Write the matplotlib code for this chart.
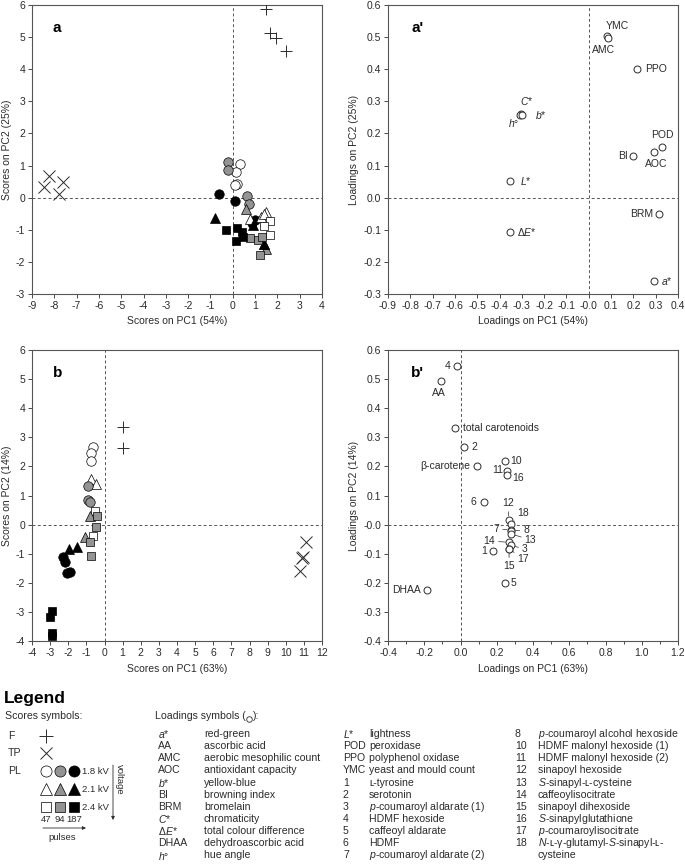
import matplotlib
matplotlib.use("Agg")
import matplotlib.pyplot as plt
import numpy as np

plt.rcParams['font.family'] = ['Liberation Sans', 'DejaVu Sans']
plt.rcParams['mathtext.fontset'] = 'custom'
plt.rcParams['mathtext.rm'] = 'Liberation Sans'
plt.rcParams['mathtext.it'] = 'Liberation Sans:italic'
plt.rcParams['axes.linewidth'] = 0.8

INK = '#2b2b2b'
GREY = '#939393'
W, H = 685, 864

# ---------------- scores, panel a (PC1 54%, PC2 25%) ----------------
a_F_x = [1.47, 1.69, 1.96, 2.38]
a_F_y = [5.86, 5.14, 4.96, 4.57]
a_TP_x = [-8.26, -8.44, -7.62, -7.77]
a_TP_y = [0.66, 0.32, 0.48, 0.12]
a_PL = {
    ('o', 'w'): ([0.34, 0.16, 0.19, 0.09], [1.04, 0.79, 0.42, 0.38]),
    ('o', 'g'): ([-0.22, -0.22, 0.64, 0.73], [1.11, 0.87, 0.04, -0.19]),
    ('o', 'k'): ([-0.60, 0.09, 1.00, 0.85], [0.10, -0.10, -0.68, -0.78]),
    ('^', 'w'): ([1.47, 0.78, 1.25, 1.40], [-0.45, -0.65, -0.60, -0.50]),
    ('^', 'g'): ([0.60, 1.47, 1.38], [-0.35, -1.60, -1.45]),
    ('^', 'k'): ([-0.81, 1.40, 0.90], [-0.63, -1.45, -0.85]),
    ('s', 'w'): ([1.66, 1.39, 1.66], [-0.73, -0.89, -1.15]),
    ('s', 'g'): ([0.78, 1.15, 1.30, 1.22], [-1.27, -1.32, -1.23, -1.79]),
    ('s', 'k'): ([-0.30, 0.18, 0.40, 0.48, 0.13], [-1.00, -0.95, -1.06, -1.23, -1.34]),
}

# ---------------- scores, panel b (PC1 63%, PC2 14%) ----------------
b_F_x = [1.0, 1.0]
b_F_y = [3.36, 2.64]
b_TP_x = [11.12, 10.89, 10.94, 10.81]
b_TP_y = [-0.59, -1.15, -1.13, -1.59]
b_PL = {
    ('o', 'w'): ([-0.64, -0.77, -0.77], [2.67, 2.46, 2.18]),
    ('^', 'w'): ([-0.73, -0.45], [1.58, 1.40]),
    ('s', 'w'): ([-0.55, -0.64], [0.48, -0.38]),
    ('o', 'g'): ([-0.91, -0.91, -0.82], [1.34, 0.83, 0.77]),
    ('^', 'g'): ([-0.82, -1.10], [0.31, -0.44]),
    ('s', 'g'): ([-0.40, -0.45, -0.82, -0.77], [0.31, -0.09, -0.61, -1.07]),
    ('o', 'k'): ([-2.28, -2.19, -2.07, -1.92], [-1.10, -1.30, -1.68, -1.64]),
    ('^', 'k'): ([-1.96, -1.52], [-0.84, -0.78]),
    ('s', 'k'): ([-2.92, -3.01, -2.89, -2.92], [-2.97, -3.17, -3.71, -3.83]),
}

# ---------------- loadings, panel a' ----------------
ap_names = ['YMC', 'AMC', 'PPO', '$C$*', '$h$°', '$b$*', '$L$*', 'Δ$E$*',
            'BI', 'AOC', 'POD', 'BRM', '$a$*']
ap_x = [0.080, 0.085, 0.218, -0.305, -0.310, -0.298, -0.353, -0.353,
        0.198, 0.294, 0.328, 0.315, 0.294]
ap_y = [0.503, 0.498, 0.400, 0.262, 0.256, 0.256, 0.053, -0.108,
        0.131, 0.141, 0.159, -0.051, -0.260]

# ---------------- loadings, panel b' ----------------
bp_names = ['4', 'AA', 'total carotenoids', '2', 'β-carotene', '10', '11', '16',
            '6', '12', '18', '7', '8', '13', '14', '3', '17', '15', '1', '5', 'DHAA']
bp_x = [-0.020, -0.108, -0.028, 0.020, 0.089, 0.246, 0.257, 0.259,
        0.130, 0.265, 0.279, 0.279, 0.281, 0.279, 0.270, 0.278, 0.270, 0.268,
        0.177, 0.246, -0.186]
bp_y = [0.544, 0.493, 0.331, 0.265, 0.203, 0.217, 0.185, 0.172,
        0.077, 0.016, 0.002, -0.018, -0.022, -0.032, -0.061, -0.070, -0.084, -0.085,
        -0.090, -0.200, -0.226]

# label placement: offset in points, alignment, leader line
ap_layout = {
    'YMC': ((8, 7.3), 'center', False), 'AMC': ((-3, -8.5), 'center', False),
    'PPO': ((5.5, 0), 'left', False), '$C$*': ((4, 9), 'center', False),
    '$h$°': ((-4.5, -5.5), 'center', False), '$b$*': ((9, 0), 'left', False),
    '$L$*': ((7, 0), 'left', False), 'Δ$E$*': ((5, 0), 'left', False),
    'BI': ((-4, 0), 'right', False), 'AOC': ((1, -8.5), 'center', False),
    'POD': ((0, 8), 'center', False), 'BRM': ((-4, 0), 'right', False),
    '$a$*': ((5, 0), 'left', False),
}
bp_layout = {
    '4': ((-4.5, 0), 'right', False), 'AA': ((-1.3, -8.8), 'center', False),
    'total carotenoids': ((5.5, 0), 'left', False), '2': ((5, 0), 'left', False),
    'β-carotene': ((-4.3, 0), 'right', False), '10': ((4, 0.5), 'left', False),
    '11': ((-3, 0.5), 'right', False), '16': ((3.5, -2.3), 'left', False),
    '6': ((-5.3, 0), 'right', False), '12': ((0, 12), 'center', True),
    '18': ((9, 8), 'center', True), '7': ((-10.5, 0.5), 'center', True),
    '8': ((10.5, 0.8), 'center', True), '13': ((14, -4.3), 'center', True),
    '14': ((-14.5, 1), 'center', True), '3': ((10, -3.2), 'center', True),
    '17': ((10, -7.2), 'center', True), '15': ((0, -12), 'center', True),
    '1': ((-4, 0), 'right', False), '5': ((4, 0), 'left', False),
    'DHAA': ((-4.5, 0), 'right', False),
}

fill_col = {'w': 'white', 'g': GREY, 'k': 'black'}
msize = {'o': 6.8, '^': 7.2, 's': 6.4}


def px_rect(x0, y0, x1, y1):
    return [x0 / W, 1 - y1 / H, (x1 - x0) / W, (y1 - y0) / H]


def style_axes(ax, xlim, ylim, xt, yt, fmt, xminor=None):
    ax.set_xlim(*xlim)
    ax.set_ylim(*ylim)
    ax.set_xticks(xt)
    ax.set_yticks(yt)
    ax.set_xticklabels([fmt.format(v) for v in xt])
    ax.set_yticklabels([fmt.format(v) for v in yt])
    if xminor is not None:
        ax.set_xticks(xminor, minor=True)
        ax.tick_params(axis='x', which='minor', length=2.5, width=0.6, color=INK)
    ax.tick_params(direction='out', length=3, width=0.6, labelsize=7.5,
                   colors=INK, pad=2)
    for s in ax.spines.values():
        s.set_color('#555555')
        s.set_linewidth(0.8)
    ax.axhline(0, ls=(0, (3, 2.5)), lw=0.7, color='#555555', zorder=1)
    ax.axvline(0, ls=(0, (3, 2.5)), lw=0.7, color='#555555', zorder=1)


def draw_scores(ax, fx, fy, tx, ty, pl):
    ax.plot(fx, fy, '+', ms=9, mew=0.7, color=INK, zorder=3)
    ax.plot(tx, ty, 'x', ms=8, mew=0.7, color=INK, zorder=3)
    for (m, f), (xs, ys) in pl.items():
        ax.plot(xs, ys, m, ms=msize[m], mfc=fill_col[f], mec='black', mew=0.5,
                ls='none', zorder=4)


def draw_loadings(ax, names, xs, ys, layout):
    ax.plot(xs, ys, 'o', ms=5, mfc='white', mec=INK, mew=0.7, ls='none', zorder=4)
    for n, x, y in zip(names, xs, ys):
        off, ha, lead = layout[n]
        kw = dict(xy=(x, y), xytext=off, textcoords='offset points', ha=ha,
                  va='center', fontsize=7.5, color=INK, zorder=5)
        if lead:
            kw['arrowprops'] = dict(arrowstyle='-', lw=0.5, color=INK,
                                    shrinkA=0.5, shrinkB=3)
        ax.annotate(n, **kw)


fig = plt.figure(figsize=(W / 100, H / 100), dpi=100)

# panel a
ax_a = fig.add_axes(px_rect(32, 5, 322, 294))
style_axes(ax_a, (-9, 4), (-3, 6), np.arange(-9, 5), np.arange(-3, 7), '{:g}')
draw_scores(ax_a, a_F_x, a_F_y, a_TP_x, a_TP_y, a_PL)
ax_a.set_xlabel('Scores on PC1 (54%)', fontsize=7.5, color=INK, labelpad=4)
ax_a.set_ylabel('Scores on PC2 (25%)', fontsize=7.5, color=INK, labelpad=3)
ax_a.text(0.072, 0.92, 'a', transform=ax_a.transAxes, fontsize=11,
          fontweight='bold', va='center')

# panel a'
ax_ap = fig.add_axes(px_rect(388, 5, 678, 294))
style_axes(ax_ap, (-0.9, 0.4), (-0.3, 0.6), np.round(np.arange(-0.9, 0.41, 0.1), 1),
           np.round(np.arange(-0.3, 0.61, 0.1), 1), '{:.1f}')
draw_loadings(ax_ap, ap_names, ap_x, ap_y, ap_layout)
ax_ap.set_xlabel('Loadings on PC1 (54%)', fontsize=7.5, color=INK, labelpad=4)
ax_ap.set_ylabel('Loadings on PC2 (25%)', fontsize=7.5, color=INK, labelpad=3)
ax_ap.text(0.08, 0.92, "a'", transform=ax_ap.transAxes, fontsize=11,
           fontweight='bold', va='center')

# panel b
ax_b = fig.add_axes(px_rect(32, 350, 322, 641))
style_axes(ax_b, (-4, 12), (-4, 6), np.arange(-4, 13), np.arange(-4, 7), '{:g}')
draw_scores(ax_b, b_F_x, b_F_y, b_TP_x, b_TP_y, b_PL)
ax_b.set_xlabel('Scores on PC1 (63%)', fontsize=7.5, color=INK, labelpad=4)
ax_b.set_ylabel('Scores on PC2 (14%)', fontsize=7.5, color=INK, labelpad=3)
ax_b.text(0.072, 0.92, 'b', transform=ax_b.transAxes, fontsize=11,
          fontweight='bold', va='center')

# panel b'
ax_bp = fig.add_axes(px_rect(388, 350, 678, 641))
style_axes(ax_bp, (-0.4, 1.2), (-0.4, 0.6), np.round(np.arange(-0.4, 1.21, 0.2), 1),
           np.round(np.arange(-0.4, 0.61, 0.1), 1), '{:.1f}',
           xminor=np.round(np.arange(-0.3, 1.2, 0.2), 1))
draw_loadings(ax_bp, bp_names, bp_x, bp_y, bp_layout)
ax_bp.set_xlabel('Loadings on PC1 (63%)', fontsize=7.5, color=INK, labelpad=4)
ax_bp.set_ylabel('Loadings on PC2 (14%)', fontsize=7.5, color=INK, labelpad=3)
ax_bp.text(0.08, 0.92, "b'", transform=ax_bp.transAxes, fontsize=11,
           fontweight='bold', va='center')

# ---------------- legend ----------------
leg_col1 = [('$a$*', 'red-green'), ('AA', 'ascorbic acid'),
            ('AMC', 'aerobic mesophilic count'), ('AOC', 'antioxidant capacity'),
            ('$b$*', 'yellow-blue'), ('BI', 'browning index'), ('BRM', 'bromelain'),
            ('$C$*', 'chromaticity'), ('Δ$E$*', 'total colour difference'),
            ('DHAA', 'dehydroascorbic acid'), ('$h$°', 'hue angle')]
leg_col2 = [('$L$*', 'lightness'), ('POD', 'peroxidase'), ('PPO', 'polyphenol oxidase'),
            ('YMC', 'yeast and mould count'), ('1', 'ʟ-tyrosine'), ('2', 'serotonin'),
            ('3', '$p$-coumaroyl aldarate (1)'), ('4', 'HDMF hexoside'),
            ('5', 'caffeoyl aldarate'), ('6', 'HDMF'), ('7', '$p$-coumaroyl aldarate (2)')]
leg_col3 = [('8', '$p$-coumaroyl alcohol hexoside'), ('10', 'HDMF malonyl hexoside (1)'),
            ('11', 'HDMF malonyl hexoside (2)'), ('12', 'sinapoyl hexoside'),
            ('13', '$S$-sinapyl-ʟ-cysteine'), ('14', 'caffeoylisocitrate'),
            ('15', 'sinapoyl dihexoside'), ('16', '$S$-sinapylglutathione'),
            ('17', '$p$-coumaroylisocitrate'), ('18', '$N$-ʟ-γ-glutamyl-$S$-sinapyl-ʟ-'),
            ('', 'cysteine')]
voltages = ['1.8 kV', '2.1 kV', '2.4 kV']
pulses = ['47', '94', '187']

lg = fig.add_axes([0, 0, 1, 1], zorder=-1)
lg.set_xlim(0, W)
lg.set_ylim(H, 0)
lg.axis('off')
fs = 7.6
lg.text(4, 698, 'Legend', fontsize=12.5, fontweight='bold', va='center')
lg.text(5, 716, 'Scores symbols:', fontsize=fs, va='center', color=INK)
lg.text(8, 736, 'F', fontsize=fs, va='center', color=INK)
lg.text(8, 753, 'TP', fontsize=fs, va='center', color=INK)
lg.text(8, 771, 'PL', fontsize=fs, va='center', color=INK)
lg.plot([46], [736], '+', ms=10, mew=0.7, color=INK)
lg.plot([46], [753], 'x', ms=8.5, mew=0.7, color=INK)
mx = [46, 60, 74]
for r, (m, volt) in enumerate(zip(['o', '^', 's'], voltages)):
    yy = 771 + r * 18
    for c, f in enumerate(['w', 'g', 'k']):
        lg.plot([mx[c]], [yy], m, ms=msize[m] + 1.2, mfc=fill_col[f], mec='black', mew=0.5)
    lg.text(82, yy, volt, fontsize=6.8, va='center', color=INK)
lg.annotate('', xy=(113, 820), xytext=(113, 765),
            arrowprops=dict(arrowstyle='-|>', lw=0.6, color=INK, mutation_scale=5,
                            shrinkA=0, shrinkB=0))
lg.text(119, 779, 'voltage', fontsize=6.8, rotation=-90, ha='center', va='center', color=INK)
for c, p in enumerate(pulses):
    lg.text(mx[c], 820, p, fontsize=6.8, ha='center', va='center', color=INK)
lg.annotate('', xy=(86, 828), xytext=(43, 828),
            arrowprops=dict(arrowstyle='-|>', lw=0.6, color=INK, mutation_scale=5,
                            shrinkA=0, shrinkB=0))
lg.text(62, 837, 'pulses', fontsize=6.8, ha='center', va='center', color=INK)

t_head = lg.text(155, 716, 'Loadings symbols (', fontsize=fs, va='center', color=INK)
fig.canvas.draw()
xe = t_head.get_window_extent().x1
lg.plot([xe + 3.5], [718.5], 'o', ms=4, mfc='white', mec=INK, mew=0.6)
lg.text(xe + 7, 716, '):', fontsize=fs, va='center', color=INK)

row0, dy = 734, 12.15
for col, xa, xd in [(leg_col1, 158, 204), (leg_col2, 343, 369), (leg_col3, 515, 538)]:
    for i, (abbr, desc) in enumerate(col):
        y = row0 + i * dy
        lg.text(xa, y, abbr, fontsize=fs, va='center', color=INK)
        lg.text(xd, y, desc, fontsize=fs, va='center', color=INK)

fig.savefig('out.png', dpi=100)
